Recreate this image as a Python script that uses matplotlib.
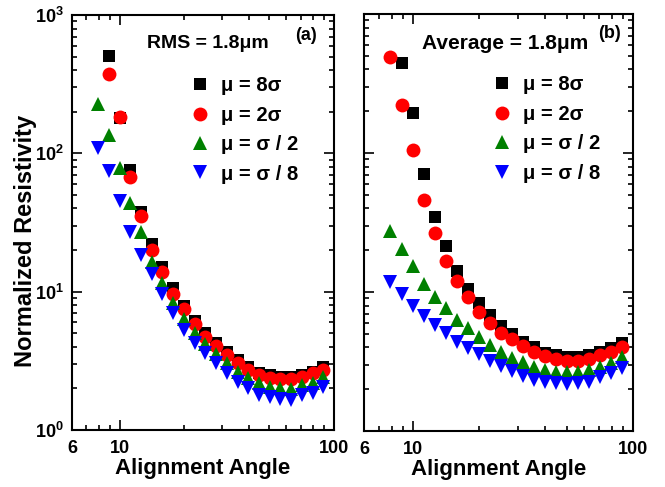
import matplotlib
matplotlib.use("Agg")
import matplotlib.pyplot as plt
from matplotlib.ticker import LogLocator, NullFormatter

plt.rcParams["font.family"] = ["Liberation Sans", "DejaVu Sans"]
plt.rcParams["font.weight"] = "bold"
plt.rcParams["mathtext.fontset"] = "custom"
plt.rcParams["mathtext.rm"] = "Liberation Sans:bold"
plt.rcParams["mathtext.bf"] = "Liberation Sans:bold"

# alignment angles (deg), shared by every series
angles = [7.9, 8.9, 10.0, 11.2, 12.6, 14.1, 15.8, 17.8, 20.0, 22.4, 25.1,
          28.2, 31.6, 35.5, 39.8, 44.7, 50.1, 56.2, 63.1, 70.8, 79.4, 89.1]

# (a) RMS = 1.8 um
rms_8s = [506, 180, 76, 38, 22, 15, 10.6, 7.9, 6.1, 5.0, 4.28, 3.68, 3.21,
          2.84, 2.57, 2.5, 2.43, 2.41, 2.5, 2.64, 2.87]
rms_2s = [375, 182, 67, 35.5, 20, 14, 9.7, 7.46, 5.84, 4.73, 4.05, 3.49,
          3.07, 2.71, 2.5, 2.36, 2.33, 2.33, 2.41, 2.57, 2.71]
rms_s2 = [228, 136, 78, 44, 27, 16.5, 11.5, 8.3, 6.3, 5.05, 4.19, 3.53,
          3.04, 2.64, 2.36, 2.18, 2.06, 2.0, 1.97, 2.1, 2.2, 2.43]
rms_s8 = [110, 74, 45.5, 27, 18.4, 13.4, 9.7, 7.05, 5.28, 4.28, 3.59, 3.04,
          2.6, 2.24, 2.0, 1.79, 1.72, 1.67, 1.65, 1.79, 1.84, 2.06]

# (b) Average = 1.8 um
avg_8s = [442, 193, 70.6, 34.8, 21.4, 14.2, 10.6, 8.29, 6.83, 5.69, 4.99,
          4.39, 4.04, 3.66, 3.52, 3.39, 3.39, 3.52, 3.72, 3.93, 4.28]
avg_2s = [488, 221, 106, 45.9, 26.4, 16.8, 12.1, 9.16, 7.22, 5.95, 5.1,
          4.57, 4.09, 3.72, 3.46, 3.28, 3.2, 3.2, 3.28, 3.52, 3.72, 4.04]
avg_s2 = [27.3, 20.3, 15.4, 11.5, 9.25, 7.63, 6.29, 5.48, 4.77, 4.16, 3.72,
          3.33, 3.15, 2.9, 2.75, 2.67, 2.67, 2.67, 2.75, 2.9, 3.07, 3.39]
avg_s8 = [11.9, 9.68, 7.93, 6.72, 5.79, 5.04, 4.39, 3.93, 3.58, 3.2, 2.94,
          2.72, 2.49, 2.33, 2.26, 2.2, 2.18, 2.2, 2.26, 2.46, 2.63, 2.83]

labels = ["μ = 8σ", "μ = 2σ", "μ = σ / 2", "μ = σ / 8"]
styles = [("s", "black", 8.5), ("o", "red", 10), ("^", "green", 10),
          ("v", "blue", 10)]

fig = plt.figure(figsize=(6.65, 4.87), dpi=100)
ax_a = fig.add_axes([0.1083, 0.117, 0.394, 0.852])
ax_b = fig.add_axes([0.5474, 0.115, 0.4045, 0.856])


def draw_panel(ax, series, title, title_xy, title_fs, tag, tag_xy, leg_x):
    for ys, (m, c, ms), lab in zip(series, styles, labels):
        xs = angles[len(angles) - len(ys):]
        ax.plot(xs, ys, linestyle="none", marker=m, color=c, ms=ms,
                markeredgewidth=0, label=lab)
    ax.set_xscale("log")
    ax.set_yscale("log")
    ax.set_xlim(6, 100)
    ax.set_ylim(1, 1000)
    ax.set_xticks([6, 10, 100])
    ax.set_xticklabels(["6", "10", "100"])
    ax.xaxis.set_minor_locator(LogLocator(base=10, subs=range(2, 10)))
    ax.xaxis.set_minor_formatter(NullFormatter())
    ax.set_yticks([1, 10, 100, 1000])
    ax.yaxis.set_minor_locator(LogLocator(base=10, subs=range(2, 10)))
    ax.yaxis.set_minor_formatter(NullFormatter())
    ax.tick_params(which="both", direction="in", top=True, right=True,
                   width=1.2, labelsize=13)
    ax.tick_params(which="major", length=7)
    ax.tick_params(which="minor", length=3.5)
    ax.tick_params(axis="x", pad=7)
    ax.tick_params(axis="y", pad=6)
    for sp in ax.spines.values():
        sp.set_linewidth(1.5)
    ax.set_xlabel("Alignment Angle", fontsize=16, fontweight="bold")
    ax.xaxis.set_label_coords(0.5, -0.068)
    ax.text(title_xy[0], title_xy[1], title, transform=ax.transAxes,
            ha="center", va="center", fontsize=title_fs, fontweight="bold")
    ax.text(tag_xy[0], tag_xy[1], tag, transform=ax.transAxes, ha="center",
            va="center", fontsize=13, fontweight="bold")
    ax.legend(loc="upper left", bbox_to_anchor=(leg_x, 0.853),
              frameon=False, fontsize=14.5, handletextpad=0.55,
              labelspacing=0.52, handlelength=1.0, borderpad=0,
              borderaxespad=0)


draw_panel(ax_a, [rms_8s, rms_2s, rms_s2, rms_s8], "RMS = 1.8μm",
           (0.517, 0.932), 14, "(a)", (0.893, 0.952), 0.45)
draw_panel(ax_b, [avg_8s, avg_2s, avg_s2, avg_s8], "Average = 1.8μm",
           (0.524, 0.930), 15, "(b)", (0.911, 0.954), 0.476)

ax_a.set_yticklabels([r"$10^0$", r"$10^1$", r"$10^2$", r"$10^3$"])
ax_a.set_ylabel("Normalized Resistivity", fontsize=17, fontweight="bold")
ax_a.yaxis.set_label_coords(-0.135, 0.455)
ax_b.set_yticklabels([])

fig.savefig("out.png", dpi=100)
